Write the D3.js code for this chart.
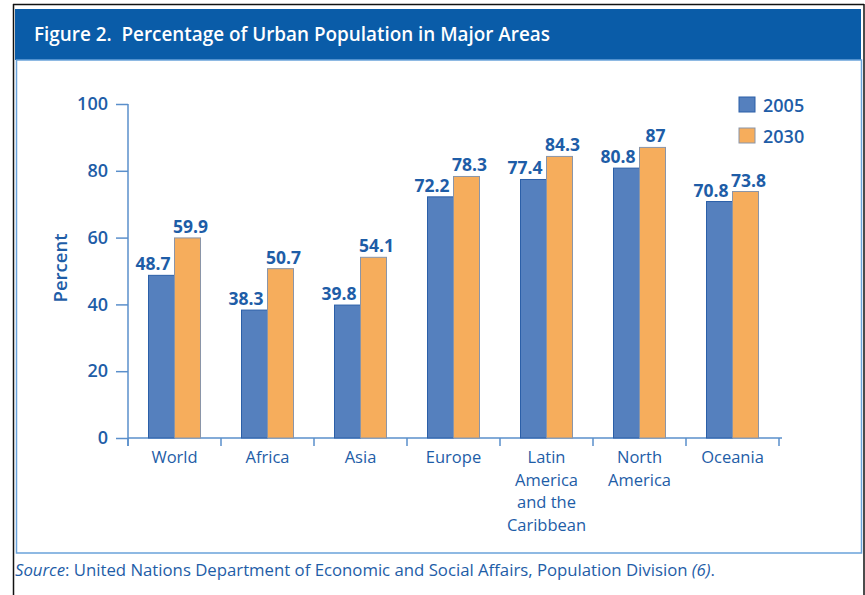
<!DOCTYPE html>
<html><head><meta charset="utf-8">
<script src="https://cdn.jsdelivr.net/npm/d3@7"></script>
<style>
body{margin:0;background:#fff;}
svg{display:block;font-family:"Open Sans",sans-serif;}
</style></head>
<body>
<svg id="c" width="865" height="595"></svg>
<script>
const categories = ["World","Africa","Asia","Europe","Latin America and the Caribbean","North America","Oceania"];
const categoryLines = [["World"],["Africa"],["Asia"],["Europe"],["Latin","America","and the","Caribbean"],["North","America"],["Oceania"]];
const series = ["2005","2030"];
const values2005 = [48.7,38.3,39.8,72.2,77.4,80.8,70.8];
const values2030 = [59.9,50.7,54.1,78.3,84.3,87,73.8];
const valueLabels2005 = ["48.7","38.3","39.8","72.2","77.4","80.8","70.8"];
const valueLabels2030 = ["59.9","50.7","54.1","78.3","84.3","87","73.8"];
const yTicks = [0,20,40,60,80,100];
const titleText = "Figure 2.  Percentage of Urban Population in Major Areas";
const yTitle = "Percent";

const blue = "#1E5DA7", axisCol = "#5A8FCB";
const fills = {"2005":"#5580BE","2030":"#F6AD5C"};
const strokes = {"2005":"#2B5FA8","2030":"#8A95A8"};

const svg = d3.select("#c");
// outer frame
svg.append("line").attr("x1",13).attr("x2",864).attr("y1",4.5).attr("y2",4.5).attr("stroke","#111").attr("stroke-width",1.5);
svg.append("line").attr("x1",13.5).attr("x2",13.5).attr("y1",4).attr("y2",595).attr("stroke","#111").attr("stroke-width",1.5);
svg.append("line").attr("x1",864).attr("x2",864).attr("y1",4).attr("y2",595).attr("stroke","#111").attr("stroke-width",1.5);
// header
svg.append("rect").attr("x",15).attr("y",9).attr("width",846).attr("height",51).attr("fill","#0A5CA8");
svg.append("text").attr("x",34).attr("y",41).attr("fill","#fff").attr("font-size",19).attr("font-weight",600)
  .attr("textLength",516).attr("lengthAdjust","spacingAndGlyphs").style("white-space","pre").text(titleText);
// box
svg.append("rect").attr("x",16.5).attr("y",60).attr("width",845).attr("height",493).attr("fill","none").attr("stroke","#6AA2DA").attr("stroke-width",1.5);

const y = d3.scaleLinear().domain([0,100]).range([438,104]);
const x = d3.scaleBand().domain(categories).range([128,779]).paddingInner(0).paddingOuter(0);
const xs = d3.scaleBand().domain(series).range([20.5,72.5]);

// y axis
const ya = svg.append("g").attr("transform","translate(128,0)")
  .call(d3.axisLeft(y).tickValues(yTicks).tickSize(12).tickPadding(8));
ya.select(".domain").remove();
ya.selectAll(".tick line").attr("stroke",axisCol).attr("stroke-width",1.5);
ya.selectAll(".tick text").attr("fill",blue).attr("font-size",18).attr("font-weight",600).attr("font-family","Open Sans");
svg.append("line").attr("x1",128).attr("x2",128).attr("y1",y(100)).attr("y2",y(0)+8).attr("stroke",axisCol).attr("stroke-width",1.5);

// x axis
const xa = svg.append("g").attr("transform","translate(0,438)")
  .call(d3.axisBottom(x).tickSize(0).tickFormat(""));
xa.select(".domain").attr("stroke",axisCol).attr("stroke-width",1.5).attr("d","M128,0H782");
const bounds = categories.map(c=>x(c)).concat([x.range()[1]]);
svg.selectAll(".bt").data(bounds).enter().append("line")
  .attr("x1",d=>d).attr("x2",d=>d).attr("y1",438).attr("y2",446).attr("stroke",axisCol).attr("stroke-width",1.5);
categories.forEach((c,i)=>{
  categoryLines[i].forEach((ln,j)=>{
    svg.append("text").attr("x",x(c)+x.bandwidth()/2).attr("y",463+j*22.5).attr("text-anchor","middle")
      .attr("fill",blue).attr("font-size",16.5).attr("font-family","Open Sans").text(ln);
  });
});

// bars
const rows = categories.map((c,i)=>({c, v:{"2005":values2005[i],"2030":values2030[i]}, l:{"2005":valueLabels2005[i],"2030":valueLabels2030[i]}}));
const g = svg.selectAll(".grp").data(rows).enter().append("g").attr("transform",d=>`translate(${x(d.c)},0)`);
g.selectAll("rect").data(d=>series.map(s=>({s,v:d.v[s]}))).enter().append("rect")
  .attr("x",d=>xs(d.s)).attr("width",xs.bandwidth()).attr("y",d=>y(d.v)).attr("height",d=>y(0)-y(d.v))
  .attr("fill",d=>fills[d.s]).attr("stroke",d=>strokes[d.s]).attr("stroke-width",1);
g.selectAll("text.v").data(d=>series.map(s=>({s,v:d.v[s],l:d.l[s]}))).enter().append("text")
  .attr("class","v")
  .attr("x",d=>d.s==="2005"? xs(d.s)+xs.bandwidth()-4 : xs(d.s)+xs.bandwidth()/2+3)
  .attr("text-anchor",d=>d.s==="2005"?"end":"middle")
  .attr("y",d=>y(d.v)-5).attr("fill",blue).attr("font-size",17.5).attr("font-weight",700).text(d=>d.l);

// y title
svg.append("text").attr("transform","translate(67,268) rotate(-90)").attr("text-anchor","middle")
  .attr("fill",blue).attr("font-size",18.5).attr("font-weight",600).text(yTitle);

// legend
series.forEach((s,i)=>{
  svg.append("rect").attr("x",739).attr("y",97+i*31).attr("width",16).attr("height",15)
    .attr("fill",fills[s]).attr("stroke",strokes[s]).attr("stroke-width",1);
  svg.append("text").attr("x",763).attr("y",112+i*31).attr("fill",blue).attr("font-size",18).attr("font-weight",600).text(s);
});

// source
const src = svg.append("text").attr("x",15).attr("y",576).attr("fill",blue).attr("font-size",16)
  .attr("textLength",700).attr("lengthAdjust","spacingAndGlyphs");
src.append("tspan").attr("font-style","italic").text("Source");
src.append("tspan").text(": United Nations Department of Economic and Social Affairs, Population Division ");
src.append("tspan").attr("font-style","italic").text("(6)");
src.append("tspan").text(".");
</script>
</body></html>
